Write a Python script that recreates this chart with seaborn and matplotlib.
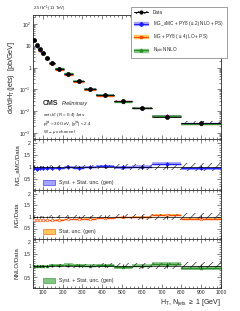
import numpy as np
import seaborn as sns
import matplotlib.pyplot as plt
from matplotlib.patches import Patch
from matplotlib.lines import Line2D
from matplotlib.ticker import MultipleLocator, LogLocator, NullFormatter, FixedLocator

sns.set_style("ticks")
plt.rcParams['font.family'] = ['Liberation Sans', 'DejaVu Sans']
plt.rcParams['mathtext.fontset'] = 'custom'
plt.rcParams['mathtext.rm'] = 'Liberation Sans'
plt.rcParams['mathtext.it'] = 'Liberation Sans:italic'
plt.rcParams['hatch.linewidth'] = 0.5

# HT binning and measured cross section
ht_edges = np.array([50, 65, 77, 92, 110, 130, 160, 205, 250, 310, 370, 460, 550, 650, 800, 1000])
data_xsec = np.array([18.5, 11, 7.1, 4.7, 2.75, 1.6, 0.87, 0.51, 0.245, 0.105, 0.055, 0.029, 0.014, 0.0054, 0.0029])
data_unc = np.array([0.05, 0.05, 0.05, 0.05, 0.05, 0.06, 0.06, 0.07, 0.08, 0.09, 0.10, 0.11, 0.12, 0.14, 0.15])

# predictions / data
ratio_amc = np.array([0.95, 0.93, 0.94, 0.96, 0.95, 0.97, 0.96, 0.98, 0.97, 1.00, 1.03, 0.98, 1.00, 1.13, 0.95])
unc_amc = np.array([0.04, 0.04, 0.04, 0.04, 0.04, 0.04, 0.04, 0.04, 0.05, 0.05, 0.05, 0.05, 0.06, 0.06, 0.06])
ratio_mg = np.array([0.88, 0.86, 0.85, 0.86, 0.86, 0.87, 0.88, 0.89, 0.90, 0.92, 0.94, 0.98, 1.00, 1.08, 0.91])
unc_mg = np.array([0.01, 0.01, 0.01, 0.01, 0.01, 0.01, 0.01, 0.01, 0.015, 0.015, 0.02, 0.02, 0.025, 0.03, 0.03])
ratio_nnlo = np.array([1.00, 0.99, 1.00, 1.01, 1.00, 1.02, 1.04, 1.05, 1.02, 1.00, 1.02, 0.93, 1.00, 1.08, 0.90])
unc_nnlo = np.array([0.04, 0.04, 0.04, 0.04, 0.04, 0.05, 0.05, 0.05, 0.05, 0.06, 0.06, 0.07, 0.07, 0.08, 0.09])

ht_center = 0.5 * (ht_edges[:-1] + ht_edges[1:])
ht_halfw = 0.5 * (ht_edges[1:] - ht_edges[:-1])

models = [
    ("MG_aMC + PY8 ($\\leq$ 2j NLO + PS)", ratio_amc, unc_amc, '#1f1fff', '#8f8fff', 'D', "MG_aMC/Data", "Syst. + Stat. unc. (gen)"),
    ("MG + PY8 ($\\leq$ 4j LO + PS)", ratio_mg, unc_mg, '#ff4a00', '#ffb833', 's', "MG/Data", "Stat. unc. (gen)"),
    ("N$_{\\mathrm{jetti}}$ NNLO", ratio_nnlo, unc_nnlo, '#2a8a2a', '#62b962', '^', "NNLO/Data", "Syst. + Stat. unc. (gen)"),
]


def step_band(ax, lo, hi, **kw):
    ax.fill_between(ht_edges, np.append(lo, lo[-1]), np.append(hi, hi[-1]), step='post', **kw)


def style_axis(ax):
    ax.tick_params(which='both', direction='in', top=True, right=True, labelsize=3.6, width=0.4, pad=1.5)
    ax.tick_params(which='major', length=2.6)
    ax.tick_params(which='minor', length=1.3)
    for s in ax.spines.values():
        s.set_linewidth(0.6)
    ax.set_xlim(50, 1000)
    ax.xaxis.set_major_locator(MultipleLocator(100))
    ax.xaxis.set_minor_locator(MultipleLocator(20))


fig = plt.figure(figsize=(2.4, 3.11), dpi=100)
W = 240.0
H = 311.0
left = 33 / W
width = (221 - 33) / W
ax_main = fig.add_axes([left, 1 - 139 / H, width, 124 / H])
ax_r = [
    fig.add_axes([left, 1 - 190 / H, width, 51 / H]),
    fig.add_axes([left, 1 - 239 / H, width, 49 / H]),
    fig.add_axes([left, 1 - 288 / H, width, 49 / H]),
]

# ---------------- main panel ----------------
ax = ax_main
legend_handles = []
for name, ratio, unc, lc, fc, mk, _, _ in models:
    pred = data_xsec * ratio
    step_band(ax, pred * (1 - unc), pred * (1 + unc), color=fc, alpha=0.7, lw=0)
    ax.hlines(pred, ht_edges[:-1], ht_edges[1:], color=lc, lw=0.9)
    sns.scatterplot(x=ht_center, y=pred, ax=ax, marker=mk, s=4, color=lc, edgecolor=lc, linewidth=0.3, zorder=4)
    legend_handles.append(((Patch(facecolor=fc, edgecolor=fc, alpha=0.7),
                            Line2D([], [], color=lc, lw=0.8, marker=mk, markersize=2)), name))

step_band(ax, data_xsec * (1 - data_unc), data_xsec * (1 + data_unc),
          facecolor='none', edgecolor='#333333', hatch='////', lw=0)
ax.errorbar(ht_center, data_xsec, xerr=ht_halfw, yerr=data_xsec * data_unc * 0.5,
            fmt='none', ecolor='black', elinewidth=0.6, zorder=5)
sns.scatterplot(x=ht_center, y=data_xsec, ax=ax, color='black', s=10, edgecolor='black', zorder=6)

ax.set_yscale('log')
ax.set_ylim(5.2e-4, 260)
style_axis(ax)
ax.yaxis.set_major_locator(LogLocator(base=10, numticks=10))
ax.yaxis.set_minor_locator(LogLocator(base=10, subs=np.arange(2, 10) * 0.1, numticks=20))
ax.yaxis.set_minor_formatter(NullFormatter())
ax.set_yticks([1e-3, 1e-2, 1e-1, 1, 10, 100])
ax.set_yticklabels(['$10^{-3}$', '$10^{-2}$', '$10^{-1}$', '1', '10', '$10^{2}$'])
ax.tick_params(labelbottom=False)
ax.set_ylabel('d$\\sigma$/dH$_\\mathrm{T}$(jets)  [pb/GeV]', fontsize=5.2, labelpad=2)

ax.text(0.053, 0.29, 'CMS', transform=ax.transAxes, fontsize=5, fontweight='bold', va='center')
ax.text(0.155, 0.29, 'Preliminary', transform=ax.transAxes, fontsize=3.8, style='italic', va='center')
ax.text(0.053, 0.194, 'anti-k$_\\mathrm{T}$ (R = 0.4) Jets', transform=ax.transAxes, fontsize=3.2, va='center')
ax.text(0.053, 0.121, 'p$_\\mathrm{T}^\\mathrm{jet}$ > 30 GeV, |y$^\\mathrm{jet}$| < 2.4', transform=ax.transAxes,
        fontsize=3.2, va='center')
ax.text(0.053, 0.056, 'W$\\rightarrow\\mu\\nu$ channel', transform=ax.transAxes, fontsize=3.2, va='center')
ax.text(0.0, 1.01, '2.5 fb$^{-1}$ (13 TeV)', transform=ax.transAxes, fontsize=3.0, va='bottom')

data_handle = (Patch(facecolor='white', edgecolor='black', hatch='////', lw=0),
               Line2D([], [], color='black', lw=0.7, marker='o', markersize=2))
fig.legend([data_handle] + [h for h, _ in legend_handles], ['Data'] + [n for _, n in legend_handles],
           loc='upper right', bbox_to_anchor=(229 / W, 1 - 5 / H), fontsize=3.3, frameon=True,
           fancybox=False, edgecolor='#777777', framealpha=1, handlelength=3.2, borderpad=0.6,
           labelspacing=0.9, handletextpad=1.0).get_frame().set_linewidth(0.5)

# ---------------- ratio panels ----------------
for axr, (name, ratio, unc, lc, fc, mk, ylab, unc_lab) in zip(ax_r, models):
    step_band(axr, ratio * (1 - unc), ratio * (1 + unc), color=fc, alpha=0.7, lw=0)
    step_band(axr, 1 - data_unc, 1 + data_unc, facecolor='none', edgecolor='#333333', hatch='////', lw=0)
    axr.hlines(ratio, ht_edges[:-1], ht_edges[1:], color=lc, lw=1.0)
    mface = 'white' if mk == 's' else lc
    sns.scatterplot(x=ht_center, y=ratio, ax=axr, marker='o' if mk == 's' else mk, s=4,
                    color=mface, edgecolor=lc, linewidth=0.4, zorder=4)
    axr.errorbar(ht_center, np.ones_like(ht_center), xerr=ht_halfw, yerr=data_unc * 0.6,
                 fmt='none', ecolor='black', elinewidth=0.5, zorder=5)
    axr.set_ylim(0.05, 2.15)
    style_axis(axr)
    axr.yaxis.set_major_locator(FixedLocator([0.5, 1, 1.5, 2]))
    axr.set_yticklabels(['0.5', '1', '1.5', '2'])
    axr.yaxis.set_minor_locator(MultipleLocator(0.1))
    axr.set_ylabel(ylab, fontsize=4.4, labelpad=3)
    axr.legend([Patch(facecolor=fc, edgecolor=lc, alpha=0.8, lw=0.5)], [unc_lab], loc='lower left',
               bbox_to_anchor=(0.03, 0.0), fontsize=3.8, frameon=False, handlelength=2.2, handleheight=1.2)
    if axr is not ax_r[-1]:
        axr.tick_params(labelbottom=False)

fig.align_ylabels([ax_main] + ax_r)
fig.text(221 / W, 1 - 303 / H, 'H$_\\mathrm{T}$, N$_\\mathrm{jets}$ $\\geq$ 1 [GeV]', fontsize=5,
         ha='right', va='center')

fig.savefig('out.png', dpi=100)
